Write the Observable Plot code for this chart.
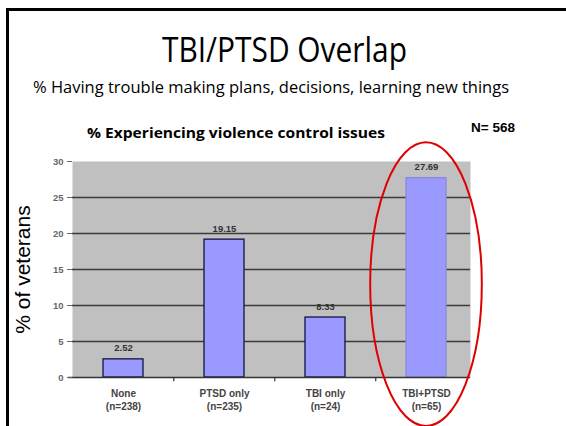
<!DOCTYPE html>
<html><head><meta charset="utf-8">
<script src="https://cdn.jsdelivr.net/npm/d3@7"></script>
<script src="https://cdn.jsdelivr.net/npm/@observablehq/plot@0.6"></script>
<style>
html,body{margin:0;padding:0;background:#fff;width:566px;height:426px;overflow:hidden;}
#wrap{position:relative;width:566px;height:426px;overflow:hidden;}
#border{position:absolute;left:6px;top:8px;width:600px;height:500px;border-left:3px solid #000;border-top:3px solid #000;box-sizing:border-box;}
#chart{position:absolute;left:0;top:0;}
#head{position:absolute;left:0;top:0;}
</style></head><body>
<div id="wrap"><div id="border"></div><div id="chart"></div><svg id="head" width="566" height="150"></svg></div>
<script>
// ---- data ----
const categories = ["None", "PTSD only", "TBI only", "TBI+PTSD"];
const groupSizes = ["(n=238)", "(n=235)", "(n=24)", "(n=65)"];
const values = [2.52, 19.15, 8.33, 27.69];
const yTicks = [0, 5, 10, 15, 20, 25, 30];
const gridLines = [5, 10, 15, 20, 25];
const highlighted = "TBI+PTSD";
const titleText = "TBI/PTSD Overlap";
const subtitleText = "% Having trouble making plans, decisions, learning new things";
const chartTitleText = "% Experiencing violence control issues";
const sampleText = "N= 568";
const yLabelText = "% of veterans";

const data = categories.map((c, i) => ({category: c, n: groupSizes[i], value: values[i]}));

// ---- header text ----
const head = d3.select("#head");
function addText(txt, x, y, size, family, weight, len) {
  head.append("text").attr("x", x).attr("y", y)
    .attr("font-size", size).attr("font-family", family).attr("font-weight", weight)
    .attr("fill", "#000").attr("textLength", len).attr("lengthAdjust", "spacingAndGlyphs")
    .text(txt);
}
addText(titleText, 162, 62, 35, "'Open Sans', sans-serif", 400, 245);
addText(subtitleText, 33, 93, 15.5, "'Open Sans', sans-serif", 400, 476);
addText(chartTitleText, 87, 138, 14, "'Open Sans', sans-serif", 700, 298);
addText(sampleText, 471, 132, 13, "'Liberation Sans', Arial, sans-serif", 700, 44);

// ---- chart ----
const xRange = [72, 478];
const step = (xRange[1] - xRange[0]) / categories.length;

const plot = Plot.plot({
  width: 566,
  height: 426,
  marginLeft: 72,
  marginRight: 96,
  marginTop: 161,
  marginBottom: 49,
  style: {fontFamily: "'Liberation Sans', Arial, sans-serif", background: "transparent", overflow: "visible"},
  x: {type: "band", domain: categories, range: xRange, paddingInner: 0.6, paddingOuter: 0.3, axis: null},
  y: {domain: [0, 30], axis: null},
  marks: [
    Plot.frame({fill: "#c0c0c0"}),
    Plot.ruleY(gridLines, {stroke: "#3a3a3a", strokeWidth: 1.4}),
    Plot.barY(data, {
      x: "category", y: "value", fill: "#9999ff",
      stroke: d => d.category === highlighted ? "#8a8ad8" : "#141440", strokeWidth: 1.3
    }),
    Plot.ruleY([0], {stroke: "#333", strokeWidth: 1.5, insetLeft: -4}),
    Plot.ruleX(categories.slice(1), {x: d => d, y1: 0, y2: -0.6, dx: -step / 2, stroke: "#333", strokeWidth: 1.2}),
    Plot.axisY({ticks: yTicks, tickSize: 5, tickPadding: 4, fontSize: 9.5, fontWeight: "bold", color: "#666", label: null}),
    Plot.text(data, {
      x: "category", y: "value", text: d => d.value.toFixed(2), dy: -11,
      fontSize: 9.5, fontWeight: "bold", fill: "#333"
    }),
    Plot.text(data, {
      x: "category", text: d => d.category + "\n" + d.n, frameAnchor: "bottom",
      lineAnchor: "top", dy: 10, lineHeight: 1.3, fontSize: 10, fontWeight: "bold", fill: "#444"
    }),
    Plot.text([yLabelText], {
      text: d => d, frameAnchor: "left", textAnchor: "middle", rotate: -90, dx: -49, fontSize: 21,
      fontWeight: "normal", fill: "#000"
    })
  ]
});
document.getElementById("chart").appendChild(plot);

// ---- red highlight ellipse around the TBI+PTSD column ----
const sx = plot.scale("x"), sy = plot.scale("y");
const cx = sx.apply(highlighted) + sx.bandwidth / 2;
const yTop = sy.apply(32.6), yBottom = sy.apply(-6.8);
d3.select(plot).append("ellipse")
  .attr("cx", cx).attr("cy", (yTop + yBottom) / 2)
  .attr("rx", step * 0.55).attr("ry", (yBottom - yTop) / 2)
  .attr("fill", "none").attr("stroke", "#e00000").attr("stroke-width", 2);
</script>
</body></html>
